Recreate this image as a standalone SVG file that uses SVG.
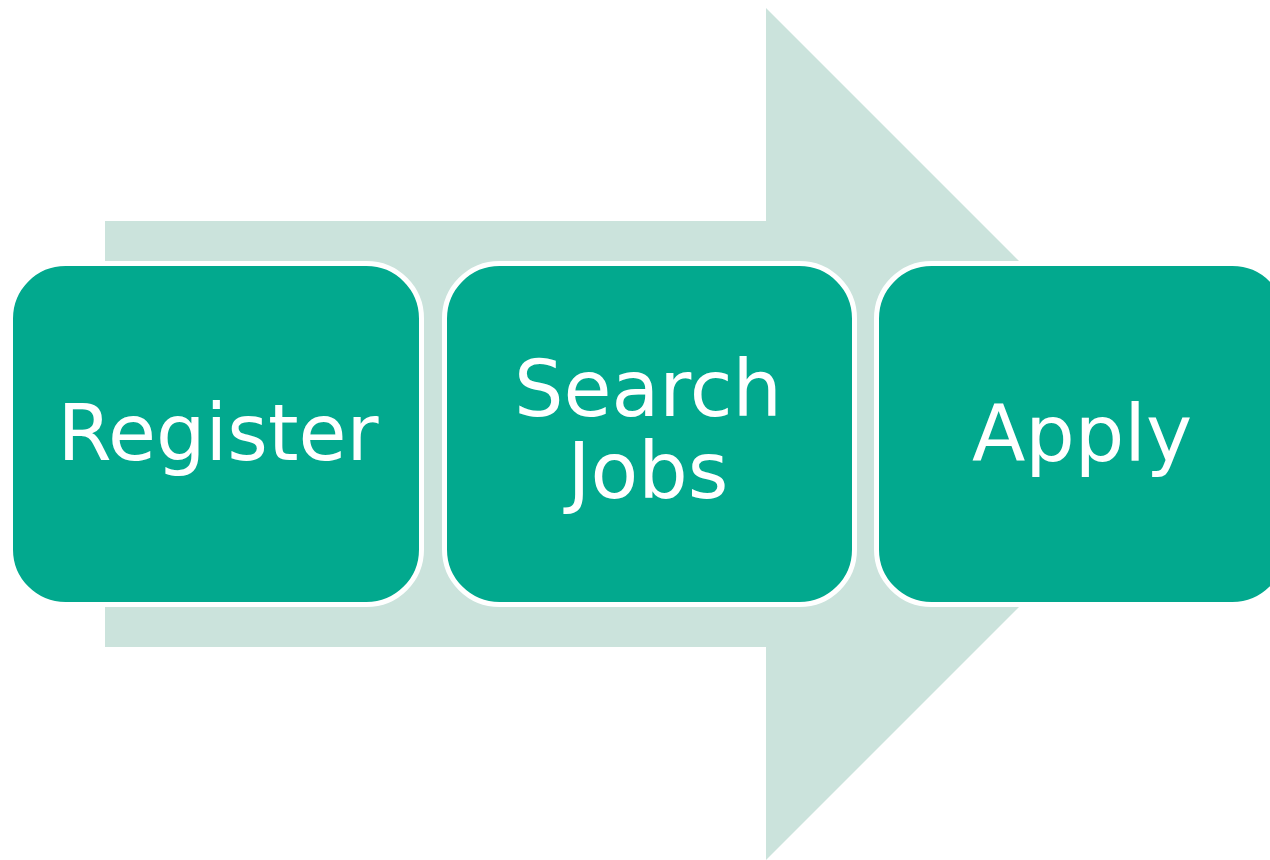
<svg xmlns="http://www.w3.org/2000/svg" width="1270" height="860" viewBox="0 0 1270 860">
  <style>
    .box { fill: #02A98E; stroke: #FFFFFF; stroke-width: 5; }
    .lbl { fill: #FFFFFF; font-family: "DejaVu Sans", Verdana, sans-serif; font-size: 78px; text-anchor: middle; }
  </style>
  <rect width="1270" height="860" fill="#FFFFFF"/>
  <g id="connectors">
    <polygon id="big-arrow" points="105,221 766,221 766,8 1192,434 766,860 766,647 105,647" fill="#CBE3DC"/>
  </g>
  <g id="node-register">
    <rect class="box" x="10.5" y="263.5" width="411" height="341" rx="55" ry="55"/>
    <text class="lbl" x="218" y="460">Register</text>
  </g>
  <g id="node-search-jobs">
    <rect class="box" x="444.5" y="263.5" width="410" height="341" rx="55" ry="55"/>
    <text class="lbl" x="648" y="416">Search</text>
    <text class="lbl" x="648" y="498">Jobs</text>
  </g>
  <g id="node-apply">
    <rect class="box" x="876.5" y="263.5" width="411" height="341" rx="55" ry="55"/>
    <text class="lbl" x="1082" y="461">Apply</text>
  </g>
</svg>
